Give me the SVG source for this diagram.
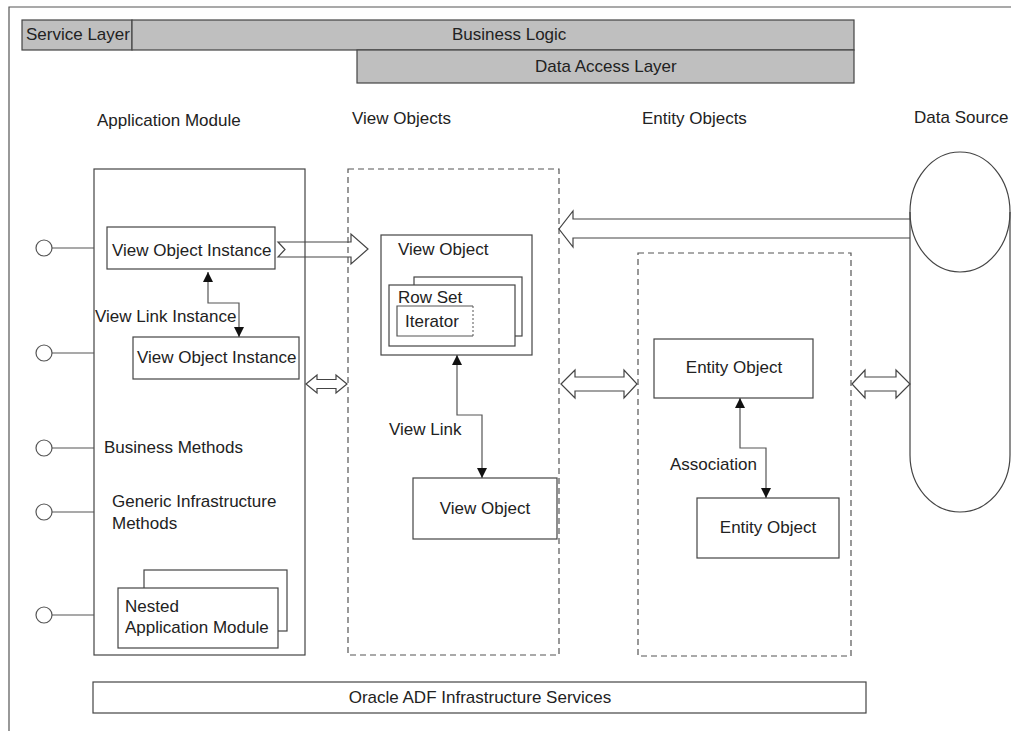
<svg xmlns="http://www.w3.org/2000/svg" width="1011" height="731" viewBox="0 0 1011 731">
<defs>
<style>
text{font-family:"Liberation Sans",Arial,sans-serif;font-size:17px;fill:#222}
.box{fill:#fff;stroke:#444;stroke-width:1.2}
.layer{fill:#bfbfbf;stroke:#444;stroke-width:1.2}
.dash{fill:none;stroke:#555;stroke-width:1.2;stroke-dasharray:6 4}
.ln{fill:none;stroke:#555;stroke-width:1.2}
.blk{fill:none;stroke:#444;stroke-width:1.2}
.c{text-anchor:middle}
</style>
<marker id="tri" viewBox="0 0 10 10" refX="10" refY="5" markerWidth="10" markerHeight="10" markerUnits="userSpaceOnUse" orient="auto-start-reverse">
<path d="M0,0 L10,5 L0,10 Z" fill="#111"/>
</marker>
</defs>
<rect width="1011" height="731" fill="#fff"/>
<path d="M9,731 V7 H1011" class="ln" stroke="#777"/>

<g id="layers">
<rect class="layer" x="22" y="20" width="110" height="30"/>
<text x="26" y="40" font-size="16.5">Service Layer</text>
<rect class="layer" x="132" y="20" width="722" height="30"/>
<text x="452" y="40">Business Logic</text>
<rect class="layer" x="357" y="50" width="497" height="33"/>
<text x="535" y="72">Data Access Layer</text>
</g>

<g id="headings">
<text x="97" y="126">Application Module</text>
<text x="352" y="124">View Objects</text>
<text x="642" y="124">Entity Objects</text>
<text x="914" y="123">Data Source</text>
</g>

<g id="application-module">
<rect class="box" x="94" y="169" width="211" height="486"/>
<text x="104" y="453">Business Methods</text>
<text x="112" y="507">Generic Infrastructure</text>
<text x="112" y="529">Methods</text>
</g>
<g id="voi1">
<rect class="box" x="107" y="227" width="168" height="42"/>
<text x="112" y="256">View Object Instance</text>
</g>
<g id="voi2">
<rect class="box" x="133" y="337" width="166" height="42"/>
<text x="137" y="363">View Object Instance</text>
</g>
<g id="nested-am">
<rect class="box" x="144" y="570" width="143" height="61"/>
<rect class="box" x="118" y="588" width="160" height="60"/>
<text x="125" y="612">Nested</text>
<text x="125" y="633">Application Module</text>
</g>

<g id="view-objects">
<rect class="dash" x="348" y="169" width="211" height="486"/>
</g>
<g id="view-object-1">
<rect class="box" x="381" y="235" width="151" height="120"/>
<text x="398" y="255">View Object</text>
<rect class="box" x="414" y="277" width="108" height="59"/>
<rect class="box" x="389" y="285" width="126" height="61"/>
<text x="398" y="303">Row Set</text>
<path d="M473,306 H397 V336 H473" class="ln"/>
<path d="M473,306 V336" fill="none" stroke="#555" stroke-width="1" stroke-dasharray="2 2"/>
<text x="405" y="327">Iterator</text>
</g>
<g id="view-object-2">
<rect class="box" x="413" y="478" width="144" height="61"/>
<text x="485" y="514" class="c">View Object</text>
</g>

<g id="entity-objects">
<rect class="dash" x="638" y="253" width="213" height="403"/>
</g>
<g id="entity-object-1">
<rect class="box" x="654" y="339" width="159" height="59"/>
<text x="734" y="373" class="c">Entity Object</text>
</g>
<g id="entity-object-2">
<rect class="box" x="697" y="498" width="142" height="60"/>
<text x="768" y="533" class="c">Entity Object</text>
</g>

<g id="data-source">
<path d="M910,212 V455 A50,57 0 0 0 1010,455 V212" class="blk"/>
<ellipse cx="960" cy="212" rx="50" ry="60" class="blk"/>
</g>

<g id="infrastructure">
<rect class="box" x="93" y="682" width="773" height="31"/>
<text x="480" y="703" class="c">Oracle ADF Infrastructure Services</text>
</g>

<g id="connectors">
<g class="ln">
<circle cx="44" cy="248" r="8" fill="#fff"/><line x1="52" y1="248" x2="94" y2="248"/>
<circle cx="44" cy="353" r="8" fill="#fff"/><line x1="52" y1="353" x2="94" y2="353"/>
<circle cx="44" cy="448" r="8" fill="#fff"/><line x1="52" y1="448" x2="94" y2="448"/>
<circle cx="44" cy="512" r="8" fill="#fff"/><line x1="52" y1="512" x2="94" y2="512"/>
<circle cx="44" cy="615" r="8" fill="#fff"/><line x1="52" y1="615" x2="94" y2="615"/>
</g>
<path d="M208,272 V303 H239 V337" class="ln" marker-start="url(#tri)" marker-end="url(#tri)"/>
<text x="95" y="322">View Link Instance</text>
<path d="M457,355 V415 H482 V478" class="ln" marker-start="url(#tri)" marker-end="url(#tri)"/>
<text x="389" y="435">View Link</text>
<path d="M740,398 V448 H766 V498" class="ln" marker-start="url(#tri)" marker-end="url(#tri)"/>
<text x="670" y="470">Association</text>

<polygon points="278,242 351,242 351,234 368,249 351,264 351,257 278,257 285,249.5" class="blk"/>
<polyline points="910,219 573,219 573,211 559,229 573,247 573,238 910,238" class="blk"/>
<polygon points="306,384 317,375 317,379.5 336,379.5 336,375 347,384 336,393 336,388.5 317,388.5 317,393" class="blk"/>
<polygon points="561,384 575,370 575,377 624,377 624,370 637,384 624,398 624,391 575,391 575,398" class="blk"/>
<polygon points="852,384 865,370 865,377 896,377 896,370 910,384 896,398 896,391 865,391 865,398" class="blk"/>
</g>
</svg>
